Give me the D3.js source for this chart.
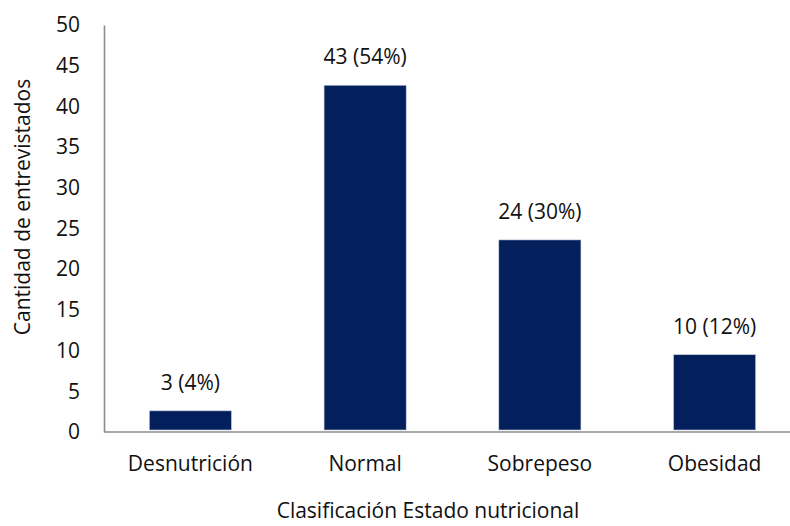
<!DOCTYPE html>
<html><head><meta charset="utf-8">
<script src="https://cdn.jsdelivr.net/npm/d3@7"></script>
<style>body{margin:0;background:#fff}svg{display:block}text{font-family:"Open Sans",Lato,sans-serif;fill:#111}</style>
</head><body>
<script>
const categories = ["Desnutrición", "Normal", "Sobrepeso", "Obesidad"];
const values = [2.6, 42.6, 23.6, 9.5];
const barLabels = ["3 (4%)", "43 (54%)", "24 (30%)", "10 (12%)"];
const yTicks = [0, 5, 10, 15, 20, 25, 30, 35, 40, 45, 50];
const xTitle = "Clasificación Estado nutricional";
const yTitle = "Cantidad de entrevistados";

const W = 790, H = 526;
const svg = d3.select("body").append("svg").attr("width", W).attr("height", H);

const x = d3.scaleBand().domain(categories).range([103, 802]).paddingInner(0.53).paddingOuter(0.265);
const y = d3.scaleLinear().domain([0, 50]).range([432, 25]);

// y axis
const ya = svg.append("g").attr("transform", "translate(104,0)")
  .call(d3.axisLeft(y).tickValues(yTicks).tickSize(0).tickPadding(24));
ya.select(".domain").attr("stroke", "#8c8c8c").attr("stroke-width", 1.6);
ya.selectAll("text").style("font-size", "21px").attr("fill", "#111");

// x axis
const xa = svg.append("g").attr("transform", "translate(0,432)")
  .call(d3.axisBottom(x).tickSize(0).tickPadding(24));
xa.select(".domain").attr("d", "M104,0H790").attr("stroke", "#8c8c8c").attr("stroke-width", 1.6);
xa.selectAll("text").style("font-size", "21px").attr("fill", "#111");

// bars
svg.append("g").selectAll("rect").data(values).join("rect")
  .attr("x", (d, i) => x(categories[i]))
  .attr("width", x.bandwidth())
  .attr("y", d => y(d))
  .attr("height", d => y(0) - 2 - y(d))
  .attr("fill", "#03205c")
  .attr("stroke", "#c9d0de").attr("stroke-width", 0.6);

// bar labels
svg.append("g").selectAll("text").data(values).join("text")
  .attr("x", (d, i) => x(categories[i]) + x.bandwidth() / 2)
  .attr("y", d => y(d) - 21)
  .attr("text-anchor", "middle")
  .style("font-size", "21px")
  .text((d, i) => barLabels[i]);

// titles
svg.append("text").attr("x", 428).attr("y", 518).attr("text-anchor", "middle")
  .style("font-size", "21px").text(xTitle);
svg.append("text").attr("transform", "translate(30,207) rotate(-90)").attr("text-anchor", "middle")
  .style("font-size", "21px").text(yTitle);
</script>
</body></html>
